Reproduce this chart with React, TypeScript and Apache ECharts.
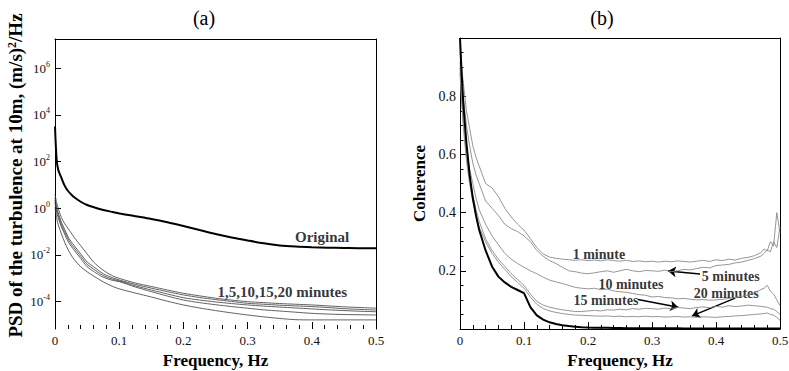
import { useEffect, useRef } from "react";
import * as echarts from "echarts";

// ---------- Panel (a): PSD (values stored as log10 exponents) ----------
const psdFreq = [0, 0.0025, 0.005, 0.01, 0.015, 0.02, 0.025, 0.03, 0.04, 0.05, 0.06, 0.075, 0.09, 0.1, 0.125, 0.15, 0.175, 0.2, 0.225, 0.25, 0.275, 0.3, 0.325, 0.35, 0.375, 0.4, 0.425, 0.45, 0.475, 0.5];
const psdOriginalExp = [3.5, 2.1, 1.65, 1.3, 0.97, 0.75, 0.6, 0.47, 0.28, 0.14, 0.05, -0.07, -0.16, -0.22, -0.34, -0.46, -0.6, -0.76, -0.93, -1.1, -1.25, -1.38, -1.5, -1.59, -1.64, -1.67, -1.69, -1.7, -1.71, -1.71];
const psd1minExp = [0.6, 0.25, 0.0, -0.4, -0.65, -0.85, -1.05, -1.25, -1.6, -1.95, -2.3, -2.65, -2.9, -3.0, -3.2, -3.35, -3.5, -3.64, -3.75, -3.85, -3.93, -4.0, -4.04, -4.08, -4.11, -4.14, -4.18, -4.22, -4.25, -4.28];
const psd5minExp = [0.45, 0.05, -0.2, -0.6, -0.9, -1.2, -1.42, -1.6, -1.95, -2.3, -2.5, -2.8, -2.98, -3.07, -3.26, -3.42, -3.57, -3.71, -3.82, -3.91, -3.99, -4.07, -4.11, -4.15, -4.18, -4.21, -4.25, -4.3, -4.33, -4.36];
const psd10minExp = [0.35, -0.05, -0.3, -0.7, -1.0, -1.3, -1.52, -1.7, -2.05, -2.4, -2.6, -2.88, -3.04, -3.11, -3.32, -3.5, -3.67, -3.83, -3.93, -4.01, -4.08, -4.14, -4.19, -4.23, -4.27, -4.31, -4.35, -4.38, -4.41, -4.43];
const psd15minExp = [0.25, -0.15, -0.4, -0.8, -1.1, -1.4, -1.62, -1.8, -2.15, -2.5, -2.7, -2.95, -3.09, -3.14, -3.37, -3.57, -3.76, -3.93, -4.04, -4.13, -4.21, -4.28, -4.35, -4.4, -4.45, -4.5, -4.53, -4.55, -4.56, -4.57];
const psd20minExp = [0.05, -0.4, -0.7, -1.1, -1.45, -1.75, -2.0, -2.2, -2.5, -2.72, -2.9, -3.15, -3.35, -3.45, -3.63, -3.8, -3.98, -4.14, -4.27, -4.38, -4.48, -4.57, -4.65, -4.72, -4.77, -4.78, -4.78, -4.78, -4.78, -4.78];
const psdTickExps = [-4, -2, 0, 2, 4, 6];
const psdNoteText = ["Original", "1,5,10,15,20 minutes"];
const psdNoteFreq = [0.416, 0.354];
const psdNoteExp = [-1.23, -3.58];

// ---------- Panel (b): Coherence ----------
const cohFreq = [0, 0.0025, 0.005, 0.01, 0.015, 0.02, 0.025, 0.03, 0.04, 0.05, 0.06, 0.07, 0.08, 0.09, 0.1, 0.11, 0.12, 0.13, 0.14, 0.15, 0.16, 0.17, 0.18, 0.19, 0.2, 0.21, 0.22, 0.23, 0.24, 0.25, 0.26, 0.27, 0.28, 0.29, 0.3, 0.31, 0.32, 0.33, 0.34, 0.35, 0.36, 0.37, 0.38, 0.39, 0.4, 0.41, 0.42, 0.43, 0.44, 0.45, 0.46, 0.47, 0.475, 0.48, 0.485, 0.49, 0.495, 0.5];
const cohBase = [1.0, 0.88, 0.78, 0.64, 0.53, 0.45, 0.39, 0.34, 0.27, 0.215, 0.18, 0.16, 0.145, 0.134, 0.123, 0.075, 0.047, 0.032, 0.023, 0.017, 0.013, 0.01, 0.008, 0.006, 0.005, 0.0045, 0.004, 0.004, 0.0035, 0.0035, 0.003, 0.003, 0.003, 0.003, 0.0025, 0.0025, 0.0025, 0.0025, 0.0025, 0.002, 0.002, 0.002, 0.002, 0.002, 0.002, 0.002, 0.002, 0.002, 0.002, 0.002, 0.002, 0.002, 0.002, 0.002, 0.002, 0.002, 0.002, 0.002];
const coh1min = [0.97, 0.9, 0.85, 0.75, 0.69, 0.63, 0.59, 0.56, 0.5, 0.485, 0.455, 0.415, 0.385, 0.36, 0.34, 0.31, 0.28, 0.258, 0.247, 0.243, 0.24, 0.238, 0.236, 0.238, 0.235, 0.237, 0.234, 0.238, 0.235, 0.233, 0.236, 0.232, 0.234, 0.231, 0.233, 0.23, 0.233, 0.231, 0.234, 0.232, 0.23, 0.233, 0.236, 0.232, 0.238, 0.235, 0.24, 0.237, 0.243, 0.246, 0.252, 0.262, 0.275, 0.268, 0.3, 0.285, 0.4, 0.33];
const coh5min = [0.95, 0.87, 0.8, 0.7, 0.63, 0.57, 0.53, 0.5, 0.44, 0.415, 0.39, 0.36, 0.345, 0.335, 0.32, 0.3, 0.27, 0.25, 0.235, 0.225, 0.212, 0.2, 0.197, 0.192, 0.19, 0.193, 0.197, 0.2, 0.195, 0.2, 0.205, 0.2, 0.197, 0.201, 0.2, 0.198, 0.202, 0.197, 0.2, 0.205, 0.203, 0.208, 0.212, 0.21, 0.218, 0.22, 0.222, 0.227, 0.23, 0.236, 0.242, 0.25, 0.26, 0.272, 0.265, 0.3, 0.28, 0.35];
const coh10min = [0.92, 0.83, 0.75, 0.62, 0.55, 0.5, 0.45, 0.41, 0.36, 0.32, 0.29, 0.26, 0.24, 0.225, 0.212, 0.2, 0.19, 0.178, 0.168, 0.162, 0.156, 0.15, 0.143, 0.14, 0.138, 0.14, 0.135, 0.137, 0.131, 0.128, 0.126, 0.122, 0.118, 0.116, 0.11, 0.112, 0.108, 0.107, 0.104, 0.105, 0.102, 0.1, 0.101, 0.099, 0.1, 0.102, 0.105, 0.108, 0.112, 0.117, 0.125, 0.135, 0.14, 0.15, 0.13, 0.12, 0.1, 0.08];
const coh15min = [0.9, 0.8, 0.72, 0.6, 0.52, 0.46, 0.41, 0.37, 0.31, 0.27, 0.24, 0.215, 0.19, 0.17, 0.15, 0.12, 0.095, 0.082, 0.075, 0.07, 0.066, 0.063, 0.06, 0.06, 0.062, 0.064, 0.062, 0.066, 0.065, 0.068, 0.066, 0.07, 0.068, 0.071, 0.07, 0.068, 0.072, 0.07, 0.074, 0.072, 0.07, 0.074, 0.076, 0.073, 0.078, 0.075, 0.08, 0.077, 0.079, 0.082, 0.08, 0.078, 0.076, 0.075, 0.07, 0.068, 0.06, 0.05];
const coh20min = [0.88, 0.78, 0.7, 0.58, 0.5, 0.44, 0.39, 0.35, 0.3, 0.26, 0.23, 0.205, 0.18, 0.16, 0.14, 0.11, 0.085, 0.07, 0.062, 0.057, 0.053, 0.05, 0.048, 0.047, 0.046, 0.045, 0.044, 0.045, 0.043, 0.044, 0.042, 0.043, 0.042, 0.044, 0.042, 0.043, 0.041, 0.042, 0.043, 0.041, 0.042, 0.04, 0.042, 0.041, 0.04, 0.042, 0.043, 0.045, 0.046, 0.048, 0.05, 0.052, 0.053, 0.055, 0.05, 0.048, 0.04, 0.03];
const cohNoteText = ["1 minute", "5 minutes", "10 minutes", "15 minutes", "20 minutes"];
const cohNoteFreq = [0.217, 0.423, 0.267, 0.228, 0.416];
const cohNoteVal = [0.257, 0.182, 0.152, 0.099, 0.123];
const cohArrowFrom = [[0.375, 0.189], [0.278, 0.101], [0.43, 0.106]];
const cohArrowTo = [[0.325, 0.199], [0.341, 0.075], [0.3625, 0.045]];

const FONT = "'Liberation Serif', 'Times New Roman', serif";

const zip = (xs: number[], ys: number[]) => xs.map((x, i) => [x, ys[i]]);

export default function App() {
  const ref = useRef<HTMLDivElement>(null);
  useEffect(() => {
    if (!ref.current) return;
    const chart = echarts.init(ref.current, undefined, { renderer: "svg" });

    const boxAxisX = (gridIndex: number) => ({
      gridIndex, type: "value", min: 0, max: 0.5, position: "top",
      axisLine: { show: true, onZero: false, lineStyle: { color: "#000", width: 1 } },
      axisTick: { show: false }, axisLabel: { show: false }, splitLine: { show: false },
    });
    const boxAxisY = (gridIndex: number, min: number, max: number) => ({
      gridIndex, type: "value", min, max, position: "right",
      axisLine: { show: true, onZero: false, lineStyle: { color: "#000", width: 1 } },
      axisTick: { show: false }, axisLabel: { show: false }, splitLine: { show: false },
    });
    const freqAxis = (gridIndex: number, showLine: boolean) => ({
      gridIndex, type: "value", min: 0, max: 0.5, interval: 0.1, position: "bottom",
      axisLine: { show: showLine, onZero: false, lineStyle: { color: "#000", width: 1 } },
      axisTick: { show: true, inside: true, length: 7, lineStyle: { color: "#000" } },
      minorTick: { show: true, splitNumber: 5, length: 4, lineStyle: { color: "#000" } },
      splitLine: { show: false }, minorSplitLine: { show: false },
      axisLabel: { margin: 5, fontSize: 13, color: "#111", fontFamily: FONT },
      name: "Frequency, Hz", nameLocation: "middle", nameGap: 21,
      nameTextStyle: { fontWeight: "bold", fontSize: 17, fontFamily: FONT, color: "#000" },
    });

    const thin = (color: string, width: number) => ({ color, width });

    const psdSeries = [psd1minExp, psd5minExp, psd10minExp, psd15minExp, psd20minExp].map((d) => ({
      type: "line", xAxisIndex: 0, yAxisIndex: 0, data: zip(psdFreq, d), showSymbol: false,
      smooth: 0.3, lineStyle: thin("#3a3a3a", 0.8), itemStyle: { color: "#3a3a3a" }, silent: true,
    }));
    const cohSeries = [coh1min, coh5min, coh10min, coh15min, coh20min].map((d) => ({
      type: "line", xAxisIndex: 2, yAxisIndex: 2, data: zip(cohFreq, d), showSymbol: false,
      lineStyle: thin("#8a8a8a", 0.9), itemStyle: { color: "#8a8a8a" }, silent: true,
    }));

    const noteLabel = (size: number) => ({ show: true, position: "inside", fontWeight: "bold", fontSize: size, lineHeight: size, fontFamily: FONT, color: "#000", formatter: (p: any) => p.name });

    chart.setOption({
      animation: false,
      backgroundColor: "#fff",
      grid: [
        { left: 55, top: 39, width: 321, height: 290, outerBoundsMode: "none" },
        { left: 460, top: 38, width: 320, height: 291, outerBoundsMode: "none" },
      ],
      xAxis: [freqAxis(0, false), boxAxisX(0), freqAxis(1, true), boxAxisX(1)],
      yAxis: [
        {
          gridIndex: 0, type: "value", min: -5.17, max: 7.25, position: "left",
          axisLine: { show: true, onZero: false, lineStyle: { color: "#000", width: 1 } },
          axisTick: { show: true, inside: true, length: 6, customValues: psdTickExps, lineStyle: { color: "#000" } },
          splitLine: { show: false },
          axisLabel: {
            customValues: psdTickExps, margin: 5,
            formatter: (v: number) => `{b|10}{s|${v}}`,
            rich: {
              b: { fontSize: 13, fontFamily: FONT, color: "#111", lineHeight: 16 },
              s: { fontSize: 8, fontFamily: FONT, color: "#111", verticalAlign: "top", lineHeight: 10 },
            },
          },
          name: "PSD of the turbulence at 10m, (m/s){sup|2}/Hz", nameLocation: "middle", nameGap: 30,
          nameTextStyle: {
            fontWeight: "bold", fontSize: 19, fontFamily: FONT, color: "#000", padding: [0, 0, 0, 17],
            rich: { sup: { fontWeight: "bold", fontSize: 12, fontFamily: FONT, color: "#000", verticalAlign: "top", lineHeight: 12 } },
          },
        },
        boxAxisY(0, -5.17, 7.25),
        {
          gridIndex: 1, type: "value", min: 0, max: 1, interval: 0.2, position: "left",
          axisLine: { show: true, onZero: false, lineStyle: { color: "#000", width: 1 } },
          axisTick: { show: true, inside: true, length: 6, lineStyle: { color: "#000" } },
          minorTick: { show: true, splitNumber: 4, length: 3.5, lineStyle: { color: "#000" } },
          splitLine: { show: false }, minorSplitLine: { show: false },
          axisLabel: { showMinLabel: false, showMaxLabel: false, margin: 4, fontSize: 14, color: "#111", fontFamily: FONT },
          name: "Coherence", nameLocation: "middle", nameGap: 32,
          nameTextStyle: { fontWeight: "bold", fontSize: 17, fontFamily: FONT, color: "#000" },
        },
        boxAxisY(1, 0, 1),
      ],
      graphic: [
        { type: "text", x: 204, y: 18, style: { text: "(a)", fontSize: 20, fontFamily: FONT, fill: "#000", align: "center", verticalAlign: "middle", textAlign: "center", textVerticalAlign: "middle" } },
        { type: "text", x: 602, y: 18, style: { text: "(b)", fontSize: 20, fontFamily: FONT, fill: "#000", align: "center", verticalAlign: "middle", textAlign: "center", textVerticalAlign: "middle" } },
      ],
      series: [
        ...psdSeries,
        {
          type: "line", xAxisIndex: 0, yAxisIndex: 0, data: zip(psdFreq, psdOriginalExp), showSymbol: false,
          smooth: 0.3, lineStyle: { color: "#000", width: 2 }, itemStyle: { color: "#000" }, silent: true,
        },
        {
          type: "scatter", xAxisIndex: 0, yAxisIndex: 0, symbolSize: 0, silent: true,
          data: psdNoteText.map((t, i) => ({ name: t, value: [psdNoteFreq[i], psdNoteExp[i]] })),
          label: noteLabel(15),
        },
        ...cohSeries,
        {
          type: "line", xAxisIndex: 2, yAxisIndex: 2, data: zip(cohFreq, cohBase), showSymbol: false,
          lineStyle: { color: "#000", width: 2 }, itemStyle: { color: "#000" }, silent: true,
        },
        {
          type: "scatter", xAxisIndex: 2, yAxisIndex: 2, symbolSize: 0, silent: true,
          data: cohNoteText.map((t, i) => ({ name: t, value: [cohNoteFreq[i], cohNoteVal[i]] })),
          label: noteLabel(14),
        },
        {
          type: "lines", coordinateSystem: "cartesian2d", xAxisIndex: 2, yAxisIndex: 2, silent: true,
          symbol: ["none", "arrow"], symbolSize: 8,
          lineStyle: { color: "#000", width: 1.5, opacity: 1, curveness: 0 },
          data: cohArrowFrom.map((a, i) => ({ coords: [a, cohArrowTo[i]] })),
        },
      ],
    } as any);
    return () => chart.dispose();
  }, []);
  return (
    <div
      ref={ref}
      style={{ position: "fixed", left: 0, top: 0, width: 789, height: 371, background: "#fff" }}
    />
  );
}
